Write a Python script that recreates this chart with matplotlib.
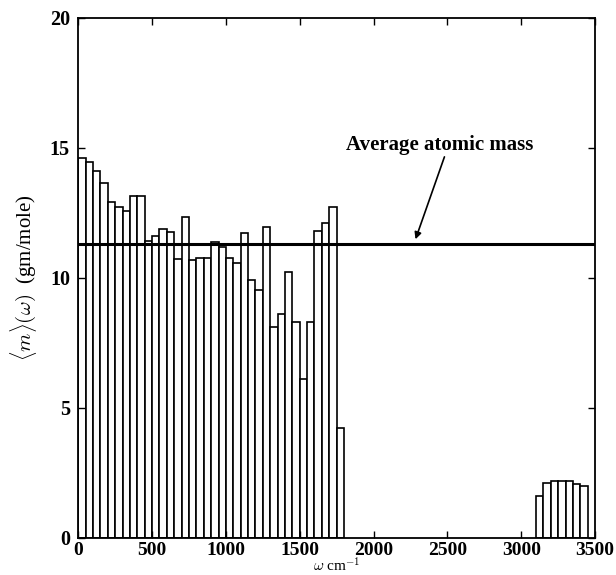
import numpy as np
import matplotlib
matplotlib.use("Agg")
import matplotlib.pyplot as plt

# bin width of the histogram (cm^-1)
bin_width = 50

# mean mass per frequency bin, low band starts at 0, high band at 3100
low_start = 0
low_mass = [14.59, 14.44, 14.10, 13.65, 12.92, 12.71, 12.58, 13.13, 13.13, 11.41,
            11.62, 11.86, 11.75, 10.71, 12.33, 10.67, 10.77, 10.77, 11.38, 11.19,
            10.74, 10.55, 11.71, 9.91, 9.53, 11.96, 8.09, 8.62, 10.21, 8.28,
            6.10, 8.28, 11.81, 12.12, 12.73, 4.21]
high_start = 3100
high_mass = [1.60, 2.09, 2.19, 2.19, 2.18, 2.05, 2.00]

avg_mass = 11.28

plt.rcParams['font.family'] = ['Liberation Serif', 'DejaVu Serif']
plt.rcParams['mathtext.fontset'] = 'cm'

fig = plt.figure(figsize=(6.16, 5.75), dpi=100)
ax = fig.add_axes([0.127, 0.065, 0.839, 0.904])

low_x = low_start + bin_width * np.arange(len(low_mass))
high_x = high_start + bin_width * np.arange(len(high_mass))
ax.bar(low_x, low_mass, width=bin_width, align='edge',
       facecolor='white', edgecolor='black', linewidth=1.2)
ax.bar(high_x, high_mass, width=bin_width, align='edge',
       facecolor='white', edgecolor='black', linewidth=1.2)

# average atomic mass line
ax.axhline(avg_mass, color='black', linewidth=2.2)
ax.text(2450, 15.1, 'Average atomic mass', ha='center', va='center',
        fontsize=15, fontweight='bold')
ax.annotate('', xy=(2284, 11.48), xytext=(2480, 14.65),
            arrowprops=dict(arrowstyle='-|>', color='black', lw=1.2,
                            shrinkA=0, shrinkB=0, mutation_scale=10))

ax.set_xlim(0, 3500)
ax.set_ylim(0, 20)
ax.set_xticks([0, 500, 1000, 1500, 2000, 2500, 3000, 3500])
ax.set_yticks([0, 5, 10, 15, 20])
ax.tick_params(direction='in', length=5, width=1, top=True, right=True)
ax.tick_params(axis='x', labelsize=14, pad=3.5)
ax.tick_params(axis='y', labelsize=14.5, pad=6)
for lab in ax.get_xticklabels() + ax.get_yticklabels():
    lab.set_fontweight('bold')
for sp in ax.spines.values():
    sp.set_linewidth(1.3)

# x label sits tight against the bottom edge, in the gap under 1500-2000
fig.text(0.547, 0.0, r'$\omega$ cm$^{-1}$', fontsize=11,
         ha='center', va='bottom')
ax.set_ylabel(r'$\langle m\rangle(\omega)$  (gm/mole)', fontsize=15, labelpad=8)

fig.savefig('out.png', dpi=100)
